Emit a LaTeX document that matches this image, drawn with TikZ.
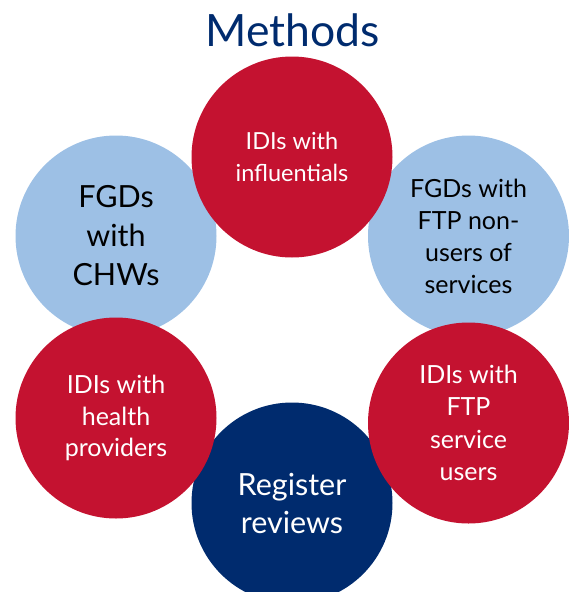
\documentclass[tikz,border=0pt]{standalone}
\usepackage{fontspec}
\setmainfont{Lato}
\usepackage{xcolor}
\definecolor{methred}{HTML}{C41230}
\definecolor{methblue}{HTML}{9DC0E5}
\definecolor{methnavy}{HTML}{002B6E}
\tikzset{
  bubble/.style={ % image of one method
    circle, minimum size=201pt, inner sep=0pt, align=center
  },
  idi/.style={   % in-depth interviews
    bubble, fill=methred, text=white,
    font={\fontsize{23.5}{32}\selectfont}
  },
  fgd/.style={   % focus group discussions
    bubble, fill=methblue, text=black,
    font={\fontsize{25}{32}\selectfont}
  },
  review/.style={ % document review
    bubble, fill=methnavy, text=white,
    font={\fontsize{30.5}{38}\selectfont}
  }
}

\begin{document}
\begin{tikzpicture}[x=1pt, y=-1pt]
      \useasboundingbox (0,0) rectangle (569,592);
      \node (title) [anchor=base, text=methnavy, font={\fontsize{44.5}{50}\selectfont}]
        at (293,46) {Methods};

      % light blue ones sit at the back
      \node[fgd, font={\fontsize{30.5}{39}\selectfont}] (chw) at (116,236) {FGDs\\with\\CHWs};
      \node[fgd] (nonuser) at (468.5,236) {FGDs with\\FTP non-\\users of\\services};
      \node[review] (register) at (292,503) {Register\\reviews};
      % red ones on top
      \node[idi] (infl) at (292,157) {IDIs with\\influentials};
      \node[idi, font={\fontsize{25}{31.5}\selectfont}] (provider) at (116,418) {IDIs with\\health\\providers};
      \node[idi, font={\fontsize{25}{32.5}\selectfont}] (user) at (468.5,423) {IDIs with\\FTP\\service\\users};
    \end{tikzpicture}
\end{document}
